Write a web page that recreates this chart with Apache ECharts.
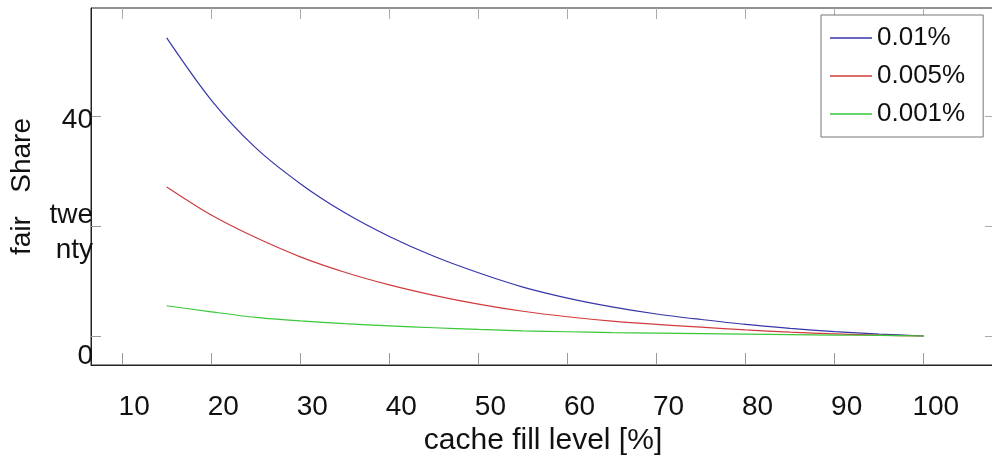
<!DOCTYPE html>
<html>
<head>
<meta charset="utf-8">
<script src="https://cdn.jsdelivr.net/npm/echarts@6/dist/echarts.min.js"></script>
<style>
  html, body { margin: 0; padding: 0; background: #fff; }
  #chart { width: 992px; height: 457px; }
</style>
</head>
<body>
<div id="chart"></div>
<script>
// cache fill level [%]
const fillLevels = [15, 20, 25, 30, 35, 40, 45, 50, 55, 60, 65, 70, 75, 80, 85, 90, 95, 100];
// fair share per miss ratio
const share001 = [54.2, 42.9, 34.2, 27.7, 22.4, 18.1, 14.5, 11.5, 8.9, 6.9, 5.3, 4.0, 3.0, 2.1, 1.4, 0.8, 0.35, 0];
const share0005 = [27.1, 22.0, 17.9, 14.4, 11.6, 9.3, 7.4, 5.8, 4.5, 3.5, 2.7, 2.1, 1.6, 1.1, 0.7, 0.4, 0.15, 0];
const share0001 = [5.5, 4.4, 3.4, 2.75, 2.25, 1.85, 1.5, 1.2, 0.95, 0.78, 0.63, 0.52, 0.43, 0.34, 0.26, 0.18, 0.1, 0];
const seriesNames = ['0.01%', '0.005%', '0.001%'];

const xTicks = [10, 20, 30, 40, 50, 60, 70, 80, 90, 100];
const yTicks = [0, 20, 40];
const yTickLabels = ['0', 'twe\nnty', '40'];

const $ = document.querySelector.bind(document);
const chart = echarts.init($('#chart'));

const font = 'Liberation Sans, Arial, sans-serif';
const pairs = (ys) => fillLevels.map((x, i) => [x, ys[i]]);

const lineSeries = (name, ys, color) => ({
    name: name,
    type: 'line',
    data: pairs(ys),
    color: color,
    showSymbol: false,
    smooth: 0.3,
    lineStyle: { width: 1.2, color: color }
});

chart.setOption({
    animation: false,
    textStyle: { fontFamily: font },
    grid: {
        left: 91,
        right: -3,
        top: 8,
        bottom: 92,
        show: true,
        borderColor: '#222',
        borderWidth: 1,
        outerBoundsMode: 'none'
    },
    legend: {
        orient: 'vertical',
        left: 821,
        top: 15,
        padding: [8, 18, 8, 9],
        itemGap: 8,
        itemWidth: 42,
        itemHeight: 1.5,
        icon: 'rect',
        borderColor: '#777',
        borderWidth: 1,
        backgroundColor: '#fff',
        textStyle: { fontSize: 26, lineHeight: 30, color: '#111', fontFamily: font },
        data: seriesNames
    },
    xAxis: [{
        type: 'value',
        min: 6.5,
        max: 108,
        name: 'cache fill level [%]',
        nameLocation: 'middle',
        nameGap: 61,
        nameMoveOverlap: false,
        nameTextStyle: { fontSize: 30, color: '#111', fontFamily: font },
        axisLine: { show: true, onZero: false, lineStyle: { color: '#222' } },
        splitLine: { show: false },
        axisTick: { show: true, inside: true, length: 12, customValues: xTicks, lineStyle: { color: '#999' } },
        axisLabel: {
            customValues: xTicks,
            fontSize: 28,
            color: '#111',
            margin: 28,
            padding: [0, 0, 0, 24]
        }
    }, {
        type: 'value',
        position: 'top',
        min: 6.5,
        max: 108,
        axisLine: { show: false, onZero: false },
        splitLine: { show: false },
        axisTick: { show: true, inside: true, length: 11, customValues: xTicks, lineStyle: { color: '#aaa' } },
        axisLabel: { show: false }
    }],
    yAxis: [{
        type: 'value',
        min: -5.27,
        max: 59.64,
        name: 'fair   Share',
        nameLocation: 'middle',
        nameGap: 55,
        nameMoveOverlap: false,
        nameTextStyle: { fontSize: 28, color: '#111', fontFamily: font },
        axisLine: { show: true, onZero: false, lineStyle: { color: '#222' } },
        splitLine: { show: false },
        axisTick: { show: true, inside: true, length: 10, customValues: yTicks, lineStyle: { color: '#999' } },
        axisLabel: {
            customValues: yTicks,
            fontSize: 28,
            color: '#111',
            margin: -2,
            formatter: (v) => {
                const t = yTickLabels[yTicks.indexOf(v)];
                if (v === 0) return '{low|' + t + '}';
                if (t.indexOf('\n') >= 0) {
                    const parts = t.split('\n');
                    return '{gap| }\n{mid|' + parts[0] + '}\n{mid|' + parts[1] + '}';
                }
                return '{top|' + t + '}';
            },
            rich: {
                low: { fontSize: 28, padding: [40, 0, 0, 0] },
                top: { fontSize: 28, padding: [8, 0, 0, 0] },
                gap: { fontSize: 10, lineHeight: 14 },
                mid: { fontSize: 28, lineHeight: 35 }
            }
        }
    }, {
        type: 'value',
        position: 'right',
        min: -5.27,
        max: 59.64,
        axisLine: { show: false, onZero: false },
        splitLine: { show: false },
        axisTick: { show: true, inside: true, length: 10, customValues: yTicks, lineStyle: { color: '#aaa' } },
        axisLabel: { show: false }
    }],
    series: [
        lineSeries(seriesNames[0], share001, '#3636a8'),
        lineSeries(seriesNames[1], share0005, '#d03c3c'),
        lineSeries(seriesNames[2], share0001, '#38c838')
    ]
});
</script>
</body>
</html>
